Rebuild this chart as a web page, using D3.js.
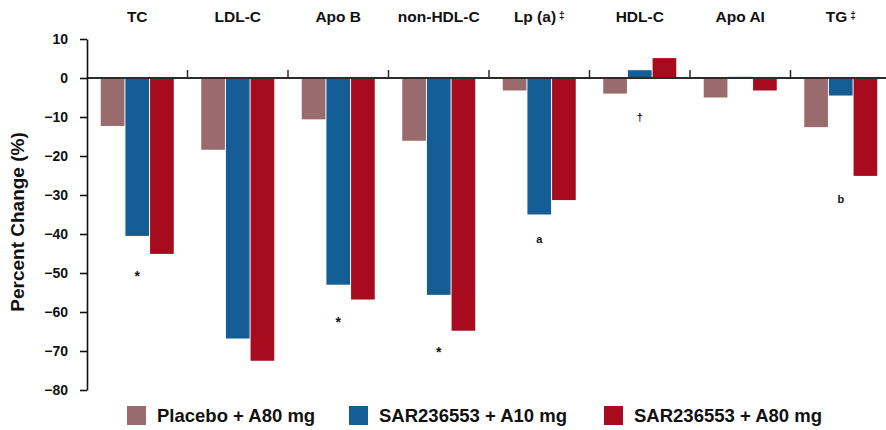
<!DOCTYPE html>
<html>
<head>
<meta charset="utf-8">
<script src="https://cdn.jsdelivr.net/npm/d3@7"></script>
<style>
  html, body { margin: 0; padding: 0; background: #fff; }
  svg { display: block; font-family: Arial, "Liberation Sans", Helvetica, sans-serif; }
</style>
</head>
<body>
<svg id="chart" width="886" height="430"></svg>
<script>
// Lipid parameters (percent change from baseline)
const categories = ["TC", "LDL-C", "Apo B", "non-HDL-C", "Lp (a)", "HDL-C", "Apo AI", "TG"];
const categoryMarks = ["", "", "", "", "‡", "", "", "‡"];
const series = ["Placebo + A80 mg", "SAR236553 + A10 mg", "SAR236553 + A80 mg"];
const colors = ["#9a6b6c", "#145e95", "#a80a1e"];

const placeboA80 = [-12.3, -18.4, -10.6, -16.1, -3.2, -4.0, -5.0, -12.6];
const sarA10     = [-40.5, -66.8, -53.0, -55.6, -35.0,  2.0,  0.3, -4.5];
const sarA80     = [-45.1, -72.5, -56.8, -64.8, -31.3,  5.1, -3.2, -25.1];
const seriesValues = [placeboA80, sarA10, sarA80];

// Significance footnotes, placed under the SAR236553 + A10 mg bar
const noteCategories = ["TC", "Apo B", "non-HDL-C", "Lp (a)", "HDL-C", "TG"];
const noteSymbols    = ["*", "*", "*", "a", "†", "b"];
const noteValues     = [-50.8, -62.5, -70.2, -41.3, -10.0, -31.0];

const yTicks = [10, 0, -10, -20, -30, -40, -50, -60, -70, -80];

const svg = d3.select("#chart");
const left = 87, step = 100.5;

const y = d3.scaleLinear().domain([-80, 10]).range([390, 39]);
const x0 = d3.scaleBand().domain(categories).range([left, left + step * categories.length]);
const x1 = d3.scaleBand().domain(series).range([13.75, 86.75]).paddingInner(0.04);
const color = d3.scaleOrdinal().domain(series).range(colors);

// Bars
const groups = svg.append("g").selectAll("g")
  .data(categories)
  .join("g")
  .attr("transform", d => `translate(${x0(d)},0)`);

groups.selectAll("rect")
  .data((c, i) => series.map((s, k) => ({ s, v: seriesValues[k][i] })))
  .join("rect")
  .attr("x", d => x1(d.s))
  .attr("width", x1.bandwidth())
  .attr("y", d => y(Math.max(0, d.v)))
  .attr("height", d => Math.abs(y(d.v) - y(0)))
  .attr("fill", d => color(d.s));

// Zero line with category separators
const zeroY = y(0);
svg.append("line")
  .attr("x1", left).attr("x2", left + step * categories.length)
  .attr("y1", zeroY).attr("y2", zeroY)
  .attr("stroke", "#2b2b2b").attr("stroke-width", 1.8);

svg.append("g").selectAll("line")
  .data(categories.slice(1).concat(["end"]))
  .join("line")
  .attr("x1", (d, i) => left + step * (i + 1))
  .attr("x2", (d, i) => left + step * (i + 1))
  .attr("y1", zeroY).attr("y2", zeroY - 8)
  .attr("stroke", "#2b2b2b").attr("stroke-width", 1.5);

// Y axis
const yAxis = svg.append("g")
  .attr("transform", `translate(${left},0)`)
  .call(d3.axisLeft(y).tickValues(yTicks).tickSize(7).tickSizeOuter(0).tickPadding(12).tickFormat(d3.format("d")));
yAxis.select(".domain").attr("stroke", "#111").attr("stroke-width", 1.6);
yAxis.selectAll(".tick line").attr("stroke", "#111").attr("stroke-width", 1.6);
yAxis.selectAll(".tick text")
  .attr("fill", "#111")
  .style("font-size", "14px").style("font-weight", "bold");

// Y axis title
svg.append("text")
  .attr("transform", "translate(24,222) rotate(-90)")
  .attr("text-anchor", "middle")
  .style("font-size", "19px").style("font-weight", "bold")
  .attr("fill", "#111")
  .text("Percent Change (%)");

// Category labels along the top
const labels = svg.append("g").selectAll("text")
  .data(categories)
  .join("text")
  .attr("x", d => x0(d) + x0.bandwidth() / 2)
  .attr("y", 22)
  .attr("text-anchor", "middle")
  .style("font-size", "15.5px").style("font-weight", "bold")
  .attr("fill", "#111");
labels.append("tspan").text(d => d);
labels.append("tspan")
  .text((d, i) => categoryMarks[i])
  .attr("dx", (d, i) => categoryMarks[i] ? 3 : 0)
  .attr("dy", -3)
  .style("font-size", "10px");

// Footnote markers
svg.append("g").selectAll("text")
  .data(noteCategories)
  .join("text")
  .attr("x", d => x0(d) + x1(series[1]) + x1.bandwidth() / 2)
  .attr("y", (d, i) => y(noteValues[i]))
  .attr("dy", "0.35em")
  .attr("text-anchor", "middle")
  .style("font-size", (d, i) => noteSymbols[i] === "*" ? "14px" : "11px")
  .style("font-weight", "bold")
  .attr("fill", "#111")
  .text((d, i) => noteSymbols[i]);

// Legend
const legendX = [127, 349, 604];
const legend = svg.append("g").selectAll("g")
  .data(series)
  .join("g")
  .attr("transform", (d, i) => `translate(${legendX[i]},406)`);
legend.append("rect")
  .attr("width", 19).attr("height", 19)
  .attr("fill", d => color(d));
legend.append("text")
  .attr("x", 30).attr("y", 9.5).attr("dy", "0.36em")
  .style("font-size", "18.5px").style("font-weight", "bold")
  .attr("fill", "#111")
  .text(d => d);
</script>
</body>
</html>
